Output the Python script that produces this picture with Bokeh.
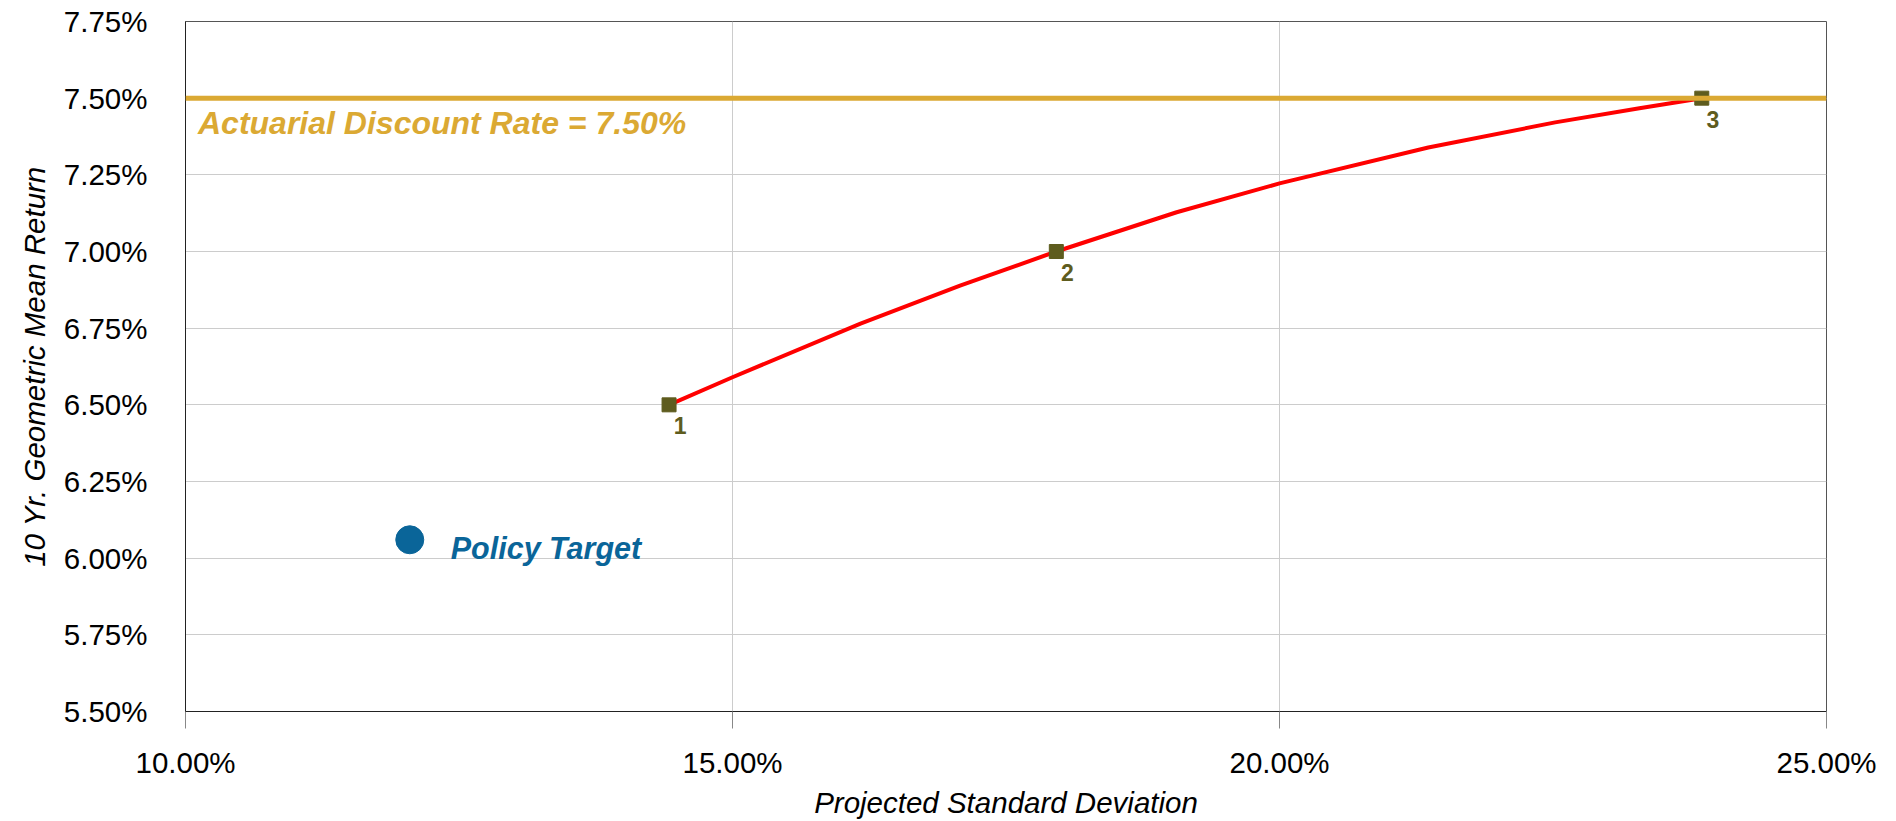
from bokeh.plotting import figure
from bokeh.models import FixedTicker, PrintfTickFormatter, Span
from bokeh.core.properties import value
from bokeh.embed import file_html
from bokeh.resources import INLINE

# ---- data (percent units) ----
frontier_sd = [14.42, 15.00, 16.17, 17.08, 17.96, 19.06, 20.00, 21.36, 22.52, 23.29, 23.86]
frontier_ret = [6.50, 6.590, 6.765, 6.889, 7.00, 7.128, 7.222, 7.339, 7.421, 7.467, 7.50]
mix_sd = [14.42, 17.96, 23.86]
mix_ret = [6.50, 7.00, 7.50]
mix_labels = ["1", "2", "3"]
policy_sd = [12.05]
policy_ret = [6.06]
policy_label = ["Policy Target"]
discount_rate = 7.50
x_ticks = [10, 15, 20, 25]
y_ticks = [5.50, 5.75, 6.00, 6.25, 6.50, 6.75, 7.00, 7.25, 7.50, 7.75]

FONT = "Liberation Sans"
GOLD = "#dba933"
BLUE = "#0a6599"
OLIVE = "#5e5c1e"

p = figure(frame_width=1641, frame_height=690, output_backend="svg", toolbar_location=None,
           x_range=(10, 25), y_range=(5.5, 7.75),
           min_border_left=185, min_border_right=54, min_border_top=21, min_border_bottom=92,
           background_fill_color="white", border_fill_color="white")
p.outline_line_color = "#555555"
p.outline_line_width = 1

# axes
p.xaxis.ticker = FixedTicker(ticks=x_ticks)
p.yaxis.ticker = FixedTicker(ticks=y_ticks)
p.xaxis.formatter = PrintfTickFormatter(format="%.2f%%")
p.yaxis.formatter = PrintfTickFormatter(format="%.2f%%")
for ax in (p.xaxis, p.yaxis):
    ax.major_label_text_font = FONT
    ax.major_label_text_font_size = "29.5px"
    ax.major_label_text_color = "black"
    ax.axis_label_text_font = FONT
    ax.axis_label_text_font_size = "29.5px"
    ax.axis_label_text_font_style = "italic"
    ax.axis_label_text_color = "black"
    ax.minor_tick_line_color = None
    ax.axis_line_color = "#222222"
p.xaxis.axis_label = "Projected Standard Deviation"
p.yaxis.axis_label = "10 Yr. Geometric Mean Return"
p.xaxis.major_tick_out = 17
p.xaxis.major_tick_in = 0
p.xaxis.major_tick_line_color = "#888888"
p.xaxis.major_label_standoff = 17
p.xaxis.axis_label_standoff = 4
p.yaxis.major_tick_out = 0
p.yaxis.major_tick_in = 0
p.yaxis.major_tick_line_color = None
p.yaxis.major_label_standoff = 38
p.yaxis.axis_label_standoff = 10

p.xgrid.grid_line_color = "#cccccc"
p.ygrid.grid_line_color = "#cccccc"
p.xgrid.grid_line_width = 1
p.ygrid.grid_line_width = 1

# frontier curve
p.line(frontier_sd, frontier_ret, line_color="#ff0000", line_width=4, line_join="round")

# asset mixes
p.scatter(mix_sd, mix_ret, marker="square", size=14, fill_color=OLIVE, line_color=OLIVE)
p.text(mix_sd, mix_ret, text=mix_labels, x_offset=11, y_offset=21,
       text_align="center", text_baseline="alphabetic",
       text_font=value(FONT), text_font_size="23px", text_font_style="bold", text_color=OLIVE)

# policy target
p.scatter(policy_sd, policy_ret, marker="circle", size=28, fill_color=BLUE, line_color=BLUE)
p.text(policy_sd, policy_ret, text=policy_label, x_offset=41, y_offset=8,
       text_align="left", text_baseline="alphabetic",
       text_font=value(FONT), text_font_size="30.5px", text_font_style="bold italic", text_color=BLUE)

# actuarial discount rate
p.add_layout(Span(location=discount_rate, dimension="width", line_color=GOLD, line_width=5))
p.text([10], [discount_rate], text=[f"Actuarial Discount Rate = {discount_rate:.2f}%"],
       x_offset=12.5, y_offset=25, text_align="left", text_baseline="alphabetic",
       text_font=value(FONT), text_font_size="32px", text_font_style="bold italic", text_color=GOLD)

open("out.html", "w").write(file_html(p, INLINE))
